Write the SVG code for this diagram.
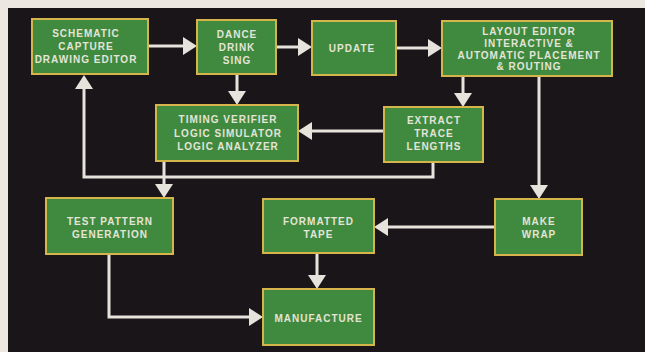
<svg xmlns="http://www.w3.org/2000/svg" width="645" height="352" viewBox="0 0 645 352">
<style>
.box{fill:#3f8a3e;stroke:#d6b44c;stroke-width:2}
.t{font-family:"Liberation Sans",Arial,sans-serif;font-weight:bold;font-size:10px;letter-spacing:1px;fill:#e4e4d8;text-anchor:middle}
.c{fill:none;stroke:#e6e2dc;stroke-width:3}
</style>
<defs>
<marker id="ah" viewBox="0 0 14 18" refX="10" refY="9" markerWidth="14" markerHeight="18" orient="auto" markerUnits="userSpaceOnUse">
<path d="M0,0 L14,9 L0,18 z" fill="#e6e2dc"/>
</marker>
</defs>
<rect x="0" y="0" width="645" height="352" fill="#ece8e1"/>
<rect x="8" y="8" width="637" height="344" fill="#1a1518"/>
<g id="connectors">
<path class="c" d="M148,46 H193" marker-end="url(#ah)"/>
<path class="c" d="M276,47 H308" marker-end="url(#ah)"/>
<path class="c" d="M396,48 H438" marker-end="url(#ah)"/>
<path class="c" d="M237,74 V101" marker-end="url(#ah)"/>
<path class="c" d="M463,76 V103" marker-end="url(#ah)"/>
<path class="c" d="M384,131 H302" marker-end="url(#ah)"/>
<path class="c" d="M539,76 V195" marker-end="url(#ah)"/>
<path class="c" d="M495,227 H378" marker-end="url(#ah)"/>
<path class="c" d="M317,253 V285" marker-end="url(#ah)"/>
<path class="c" d="M109,254 V317 H259" marker-end="url(#ah)"/>
<path class="c" d="M164,161 V194" marker-end="url(#ah)"/>
<path class="c" d="M433,162 V177 H84 V79" marker-end="url(#ah)"/>
</g>
<g id="schematic">
<rect class="box" x="32" y="19" width="116" height="55"/>
<text class="t" x="86" y="37">SCHEMATIC</text>
<text class="t" x="86" y="50">CAPTURE</text>
<text class="t" x="86" y="63">DRAWING EDITOR</text>
</g>
<g id="dance">
<rect class="box" x="197" y="20" width="79" height="54"/>
<text class="t" x="237" y="38">DANCE</text>
<text class="t" x="237" y="51">DRINK</text>
<text class="t" x="237" y="63.5">SING</text>
</g>
<g id="update">
<rect class="box" x="312" y="21" width="84" height="54"/>
<text class="t" x="352" y="52">UPDATE</text>
</g>
<g id="layout">
<rect class="box" x="442" y="21" width="170" height="55"/>
<text class="t" x="529" y="35">LAYOUT EDITOR</text>
<text class="t" x="529" y="47">INTERACTIVE &amp;</text>
<text class="t" x="529" y="58.5">AUTOMATIC PLACEMENT</text>
<text class="t" x="529" y="70">&amp; ROUTING</text>
</g>
<g id="timing">
<rect class="box" x="156" y="105" width="142" height="56"/>
<text class="t" x="228" y="123">TIMING VERIFIER</text>
<text class="t" x="228" y="137">LOGIC SIMULATOR</text>
<text class="t" x="228" y="150">LOGIC ANALYZER</text>
</g>
<g id="extract">
<rect class="box" x="384" y="107" width="99" height="55"/>
<text class="t" x="434" y="124">EXTRACT</text>
<text class="t" x="434" y="137">TRACE</text>
<text class="t" x="434" y="150">LENGTHS</text>
</g>
<g id="testpattern">
<rect class="box" x="46" y="198" width="127" height="56"/>
<text class="t" x="110" y="225">TEST PATTERN</text>
<text class="t" x="110" y="238">GENERATION</text>
</g>
<g id="formatted">
<rect class="box" x="263" y="199" width="111" height="54"/>
<text class="t" x="318.5" y="225">FORMATTED</text>
<text class="t" x="318.5" y="238">TAPE</text>
</g>
<g id="makewrap">
<rect class="box" x="495" y="199" width="87" height="56"/>
<text class="t" x="539" y="225">MAKE</text>
<text class="t" x="539" y="238">WRAP</text>
</g>
<g id="manufacture">
<rect class="box" x="263" y="289" width="111" height="56"/>
<text class="t" x="318.5" y="322">MANUFACTURE</text>
</g>
</svg>
